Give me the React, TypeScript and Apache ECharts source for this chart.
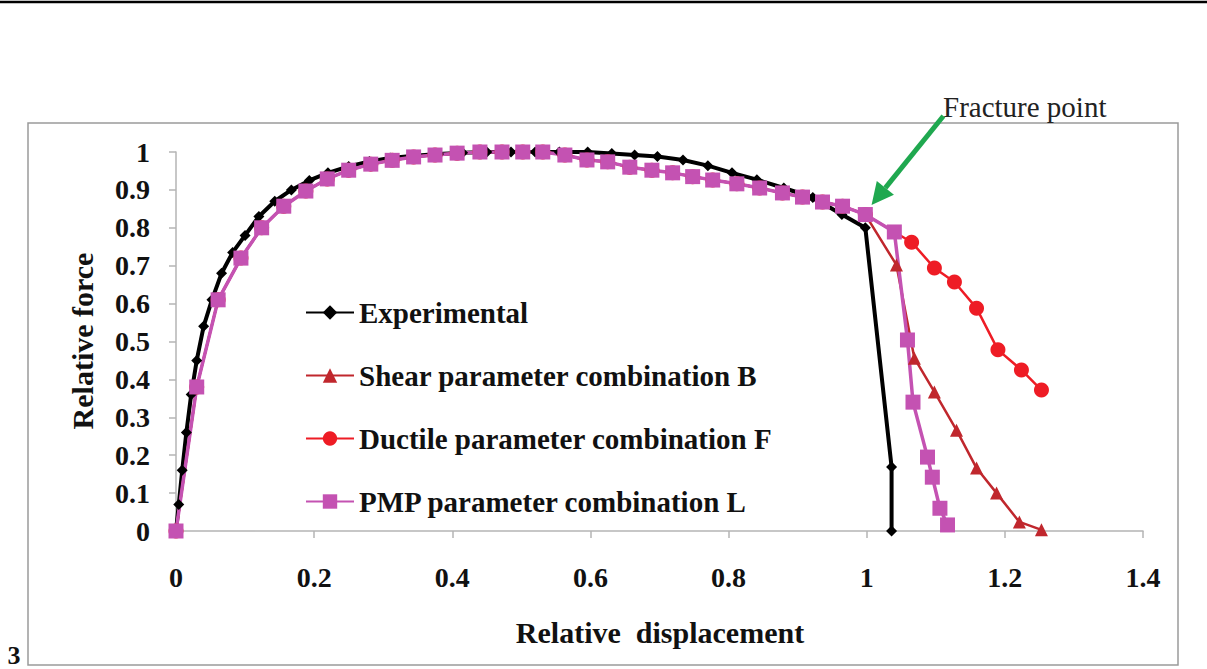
import React, { useEffect, useRef } from "react";
import * as echarts from "echarts";

// ---- data ----
const expX = [0, 0.004, 0.009, 0.015, 0.022, 0.03, 0.04, 0.052, 0.066, 0.082, 0.1, 0.12, 0.143, 0.167, 0.193, 0.22, 0.25, 0.28, 0.31, 0.345, 0.38, 0.415, 0.45, 0.485, 0.52, 0.555, 0.596, 0.631, 0.664, 0.697, 0.734, 0.77, 0.805, 0.841, 0.88, 0.922, 0.964, 0.998, 1.036, 1.036];
const expY = [0, 0.07, 0.16, 0.26, 0.36, 0.45, 0.54, 0.61, 0.68, 0.735, 0.78, 0.83, 0.87, 0.9, 0.925, 0.945, 0.962, 0.975, 0.984, 0.99, 0.995, 0.998, 1.0, 1.0, 1.0, 1.0, 1.0, 0.996, 0.992, 0.988, 0.979, 0.964, 0.945, 0.927, 0.905, 0.88, 0.835, 0.8, 0.169, 0];

// common pre-fracture simulated curve
const commonX = [0, 0.03, 0.061, 0.094, 0.124, 0.156, 0.188, 0.219, 0.25, 0.282, 0.313, 0.344, 0.375, 0.407, 0.44, 0.472, 0.502, 0.531, 0.563, 0.595, 0.625, 0.657, 0.689, 0.719, 0.748, 0.777, 0.812, 0.845, 0.878, 0.907, 0.936, 0.965, 0.998];
const commonY = [0, 0.38, 0.61, 0.72, 0.8, 0.857, 0.897, 0.929, 0.952, 0.968, 0.978, 0.987, 0.992, 0.997, 1.0, 1.0, 1.0, 1.0, 0.992, 0.979, 0.974, 0.96, 0.952, 0.945, 0.935, 0.926, 0.916, 0.905, 0.892, 0.881, 0.868, 0.857, 0.835];

const shearTailX = [1.043, 1.069, 1.098, 1.13, 1.159, 1.188, 1.221, 1.253];
const shearTailY = [0.702, 0.456, 0.367, 0.266, 0.166, 0.1, 0.024, 0.003];

const ductileTailX = [1.065, 1.098, 1.127, 1.159, 1.19, 1.224, 1.253];
const ductileTailY = [0.762, 0.694, 0.657, 0.588, 0.478, 0.425, 0.372];

const pmpTailX = [1.04, 1.059, 1.067, 1.088, 1.095, 1.106, 1.117];
const pmpTailY = [0.789, 0.504, 0.34, 0.195, 0.142, 0.06, 0.016];

const seriesNames = [
  "Experimental",
  "Shear parameter combination B",
  "Ductile parameter combination F",
  "PMP parameter combination L",
];

const xTicks = { min: 0, max: 1.4, step: 0.2 };
const yTicks = { min: 0, max: 1, step: 0.1 };

const fracturePoint = [1.007, 0.86];
const fractureTail = [1.111, 1.095];

const pair = (xs: number[], ys: number[]) => xs.map((x, i) => [x, ys[i]]);

const SERIF = '"Liberation Serif", "Times New Roman", serif';

export default function App() {
  const ref = useRef<HTMLDivElement>(null);
  useEffect(() => {
    if (!ref.current) return;
    const chart = echarts.init(ref.current, undefined, { renderer: "svg" });
    const axisColor = "#b4b4b4";
    const tickFmt = (v: number) => String(Math.round(v * 10) / 10);
    chart.setOption({
      animation: false,
      backgroundColor: "#ffffff",
      grid: { left: 176, top: 152, right: 64, bottom: 138 },
      xAxis: {
        type: "value",
        min: xTicks.min,
        max: xTicks.max,
        interval: xTicks.step,
        axisLine: { show: true, onZero: false, lineStyle: { color: axisColor, width: 1.5 } },
        axisTick: { show: true, inside: false, length: 7, lineStyle: { color: axisColor, width: 1.5 } },
        splitLine: { show: false },
        axisLabel: {
          margin: 32,
          fontFamily: SERIF,
          fontWeight: "bold",
          fontSize: 28,
          color: "#111",
          formatter: tickFmt,
        },
      },
      yAxis: {
        type: "value",
        min: yTicks.min,
        max: yTicks.max,
        interval: yTicks.step,
        axisLine: { show: true, onZero: false, lineStyle: { color: axisColor, width: 1.5 } },
        axisTick: { show: true, inside: false, length: 7, lineStyle: { color: axisColor, width: 1.5 } },
        splitLine: { show: false },
        axisLabel: {
          margin: 26,
          fontFamily: SERIF,
          fontWeight: "bold",
          fontSize: 28,
          color: "#111",
          formatter: tickFmt,
        },
      },
      legend: {
        orient: "vertical",
        left: 305,
        top: 298,
        padding: 0,
        itemWidth: 48,
        itemHeight: 18,
        itemGap: 34,
        data: seriesNames,
        textStyle: {
          fontFamily: SERIF,
          fontWeight: "bold",
          fontSize: 29,
          lineHeight: 29,
          color: "#111",
        },
      },
      series: [
        {
          name: seriesNames[0],
          type: "line",
          data: pair(expX, expY),
          symbol: "diamond",
          symbolSize: 11,
          showAllSymbol: true,
          lineStyle: { color: "#000", width: 4 },
          itemStyle: { color: "#000" },
        },
        {
          name: seriesNames[1],
          type: "line",
          data: pair([...commonX, ...shearTailX], [...commonY, ...shearTailY]),
          symbol: "triangle",
          symbolSize: 13,
          showAllSymbol: true,
          lineStyle: { color: "#c0272d", width: 2.5 },
          itemStyle: { color: "#c0272d" },
        },
        {
          name: seriesNames[2],
          type: "line",
          data: pair([...commonX, ...ductileTailX], [...commonY, ...ductileTailY]),
          symbol: "circle",
          symbolSize: 15,
          showAllSymbol: true,
          lineStyle: { color: "#ee1c25", width: 2.5 },
          itemStyle: { color: "#ee1c25" },
        },
        {
          name: seriesNames[3],
          type: "line",
          data: pair([...commonX, ...pmpTailX], [...commonY, ...pmpTailY]),
          symbol: "rect",
          symbolSize: 15,
          showAllSymbol: true,
          lineStyle: { color: "#c452b2", width: 3.5 },
          itemStyle: { color: "#c452b2" },
        },
      ],
    });

    const tip = chart.convertToPixel({ gridIndex: 0 }, fracturePoint) as number[];
    const tail = chart.convertToPixel({ gridIndex: 0 }, fractureTail) as number[];
    const dx = tip[0] - tail[0];
    const dy = tip[1] - tail[1];
    const len = Math.sqrt(dx * dx + dy * dy);
    const ux = dx / len;
    const uy = dy / len;
    const headLen = 22;
    const headHalf = 11;
    const bx = tip[0] - ux * headLen;
    const by = tip[1] - uy * headLen;
    const green = "#1fa84f";

    chart.setOption({
      graphic: [
        {
          type: "line",
          shape: { x1: 0, y1: 2, x2: 1207, y2: 2 },
          style: { stroke: "#000", lineWidth: 2.5 },
          silent: true,
        },
        {
          type: "rect",
          shape: { x: 28, y: 123, width: 1150, height: 542 },
          style: { fill: "none", stroke: "#9a9a9a", lineWidth: 1.5 },
          silent: true,
          z: -1,
        },
        {
          type: "text",
          x: 82,
          y: 341,
          rotation: Math.PI / 2,
          style: {
            text: "Relative force",
            font: `bold 30px ${SERIF}`,
            fill: "#111",
            textAlign: "center",
            textVerticalAlign: "middle",
          },
        },
        {
          type: "text",
          x: 660,
          y: 632,
          style: {
            text: "Relative  displacement",
            font: `bold 30px ${SERIF}`,
            fill: "#111",
            textAlign: "center",
            textVerticalAlign: "middle",
          },
        },
        {
          type: "text",
          x: 943,
          y: 107,
          style: {
            text: "Fracture point",
            font: `29px ${SERIF}`,
            fill: "#222",
            textAlign: "left",
            textVerticalAlign: "middle",
          },
        },
        {
          type: "line",
          shape: { x1: tail[0], y1: tail[1], x2: bx, y2: by },
          style: { stroke: green, lineWidth: 5 },
          z: 10,
        },
        {
          type: "polygon",
          shape: {
            points: [
              [tip[0], tip[1]],
              [bx - uy * headHalf, by + ux * headHalf],
              [bx + uy * headHalf, by - ux * headHalf],
            ],
          },
          style: { fill: green },
          z: 10,
        },
        {
          type: "text",
          x: 14,
          y: 655,
          style: {
            text: "3",
            fontSize: 26,
            fontWeight: "bold",
            fontFamily: SERIF,
            fill: "#111",
            textAlign: "center",
            textVerticalAlign: "middle",
          },
        },
      ],
    });

    return () => chart.dispose();
  }, []);
  return (
    <div
      ref={ref}
      style={{ position: "fixed", left: 0, top: 0, width: 1207, height: 669, background: "#fff" }}
    />
  );
}
